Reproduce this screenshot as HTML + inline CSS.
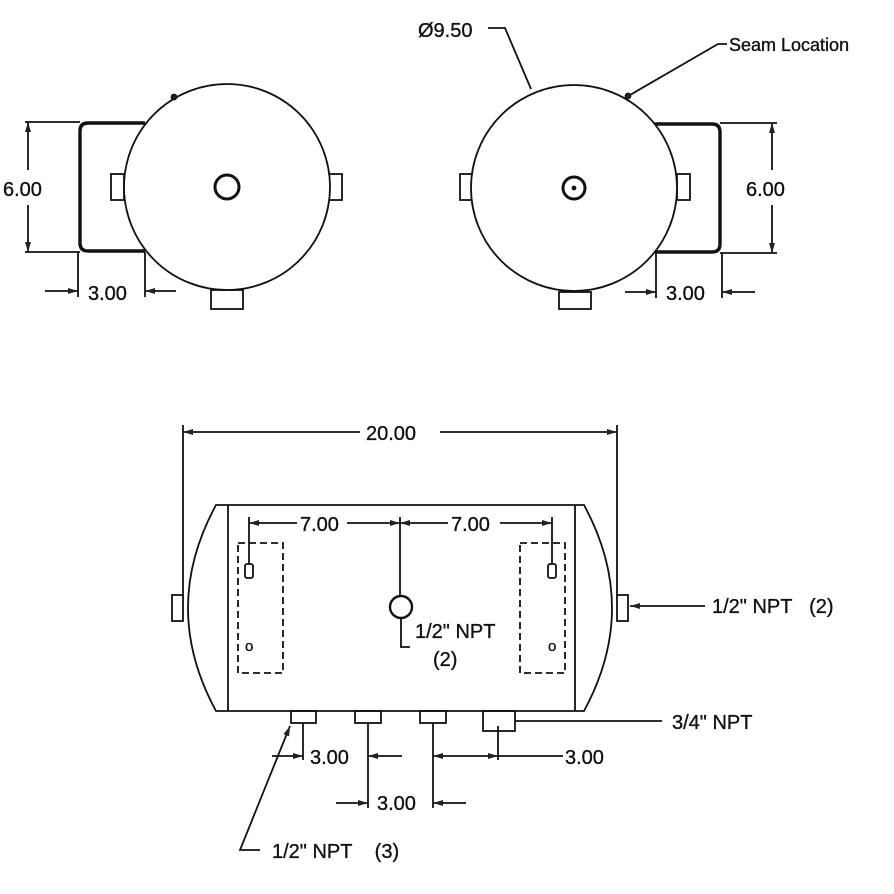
<!DOCTYPE html>
<html><head><meta charset="utf-8"><style>
html,body{margin:0;padding:0;background:#fff;}
svg{display:block;}
text{font-family:"Liberation Sans",Arial,sans-serif;font-size:20px;fill:#111;stroke:#111;stroke-width:0.35px;}
</style></head><body>
<svg width="894" height="894" viewBox="0 0 894 894" xmlns="http://www.w3.org/2000/svg">
<defs>
<marker id="a" viewBox="0 0 10 6" refX="10" refY="3" markerWidth="10" markerHeight="6" orient="auto-start-reverse" markerUnits="userSpaceOnUse"><path d="M0,0 L10,3 L0,6 z" fill="#222"/></marker>
</defs>
<g stroke="#111" fill="none" stroke-width="1.8">
<!-- LEFT END VIEW -->
<path d="M145,123 L88,123 Q80,123 80,131 L80,243 Q80,251 88,251 L145,251" stroke-width="3.4"/>
<rect x="111" y="174" width="13" height="26" fill="#fff"/>
<rect x="329" y="174" width="13" height="26"/>
<rect x="211" y="290" width="32" height="19"/>
<circle cx="227" cy="187" r="103" fill="#fff"/>
<circle cx="227" cy="187" r="12" stroke-width="3"/>
<circle cx="174" cy="97" r="2.5" fill="#222"/>
<line x1="25" y1="122" x2="80" y2="122"/>
<line x1="25" y1="252" x2="80" y2="252"/>
<line x1="28" y1="122" x2="28" y2="170" marker-start="url(#a)"/>
<line x1="28" y1="205" x2="28" y2="252" marker-end="url(#a)"/>
<line x1="78" y1="252" x2="78" y2="297"/>
<line x1="145" y1="252" x2="145" y2="297"/>
<line x1="45" y1="291" x2="78" y2="291" marker-end="url(#a)"/>
<line x1="176" y1="291" x2="145" y2="291" marker-end="url(#a)"/>
<!-- RIGHT END VIEW -->
<path d="M655,124 L712,124 Q720,124 720,132 L720,244 Q720,252 712,252 L655,252" stroke-width="3.4"/>
<rect x="460" y="174" width="13" height="26"/>
<rect x="677" y="174" width="13" height="26"/>
<rect x="559" y="292" width="32" height="17"/>
<circle cx="574" cy="188" r="103" fill="#fff"/>
<circle cx="574" cy="188" r="11" stroke-width="3"/>
<circle cx="574" cy="188" r="1.5" fill="#222"/>
<circle cx="628" cy="96" r="2.5" fill="#222"/>
<line x1="720" y1="123" x2="777" y2="123"/>
<line x1="720" y1="253" x2="777" y2="253"/>
<line x1="772" y1="123" x2="772" y2="170" marker-start="url(#a)"/>
<line x1="772" y1="205" x2="772" y2="253" marker-end="url(#a)"/>
<line x1="656" y1="253" x2="656" y2="298"/>
<line x1="722" y1="253" x2="722" y2="298"/>
<line x1="625" y1="292" x2="656" y2="292" marker-end="url(#a)"/>
<line x1="755" y1="292" x2="722" y2="292" marker-end="url(#a)"/>
<polyline points="488,28 505,28 531,89"/>
<polyline points="727,44 718,44 630,95"/>
<!-- TANK SIDE VIEW -->
<line x1="183" y1="425" x2="183" y2="597"/>
<line x1="617" y1="425" x2="617" y2="597"/>
<line x1="183" y1="432" x2="360" y2="432" marker-start="url(#a)"/>
<line x1="440" y1="432" x2="617" y2="432" marker-end="url(#a)"/>
<rect x="172" y="595" width="11" height="26"/>
<rect x="617" y="595" width="11" height="26"/>
<path d="M216,505 L584,505 Q640,608 584,711 L216,711 Q160,608 216,505 Z" fill="#fff"/>
<line x1="228" y1="505" x2="228" y2="711"/>
<line x1="575" y1="505" x2="575" y2="711"/>
<rect x="238" y="543" width="45" height="130" stroke-dasharray="7,4"/>
<rect x="520" y="543" width="45" height="130" stroke-dasharray="7,4"/>
<rect x="245" y="564" width="8" height="14" rx="2"/>
<rect x="548" y="564" width="8" height="14" rx="2"/>
<line x1="249" y1="517" x2="249" y2="564"/>
<line x1="552" y1="517" x2="552" y2="564"/>
<line x1="400" y1="517" x2="400" y2="596"/>
<line x1="249" y1="523" x2="297" y2="523" marker-start="url(#a)"/>
<line x1="347" y1="523" x2="400" y2="523" marker-end="url(#a)"/>
<line x1="400" y1="523" x2="448" y2="523" marker-start="url(#a)"/>
<line x1="500" y1="523" x2="552" y2="523" marker-end="url(#a)"/>
<circle cx="401" cy="607" r="11" stroke-width="2.4"/>
<polyline points="401,618 401,647 410,647"/>
<!-- bottom fittings -->
<rect x="291" y="711" width="25" height="12"/>
<rect x="355" y="711" width="26" height="12"/>
<rect x="420" y="711" width="26" height="12"/>
<rect x="483" y="711" width="32" height="20"/>
<line x1="515" y1="721" x2="662" y2="721"/>
<line x1="303" y1="723" x2="303" y2="760"/>
<line x1="368" y1="723" x2="368" y2="808"/>
<line x1="433" y1="723" x2="433" y2="808"/>
<line x1="498" y1="726" x2="498" y2="760"/>
<line x1="272" y1="756" x2="303" y2="756" marker-end="url(#a)"/>
<line x1="402" y1="756" x2="368" y2="756" marker-end="url(#a)"/>
<line x1="433" y1="756" x2="498" y2="756" marker-start="url(#a)" marker-end="url(#a)"/>
<line x1="498" y1="756" x2="563" y2="756"/>
<line x1="336" y1="803" x2="368" y2="803" marker-end="url(#a)"/>
<line x1="466" y1="803" x2="433" y2="803" marker-end="url(#a)"/>
<polyline points="260,850 240,850 290,726" marker-end="url(#a)"/>
<line x1="705" y1="606" x2="630" y2="606" marker-end="url(#a)"/>
</g>
<text x="3" y="196">6.00</text>
<text x="88" y="300">3.00</text>
<text x="746" y="196">6.00</text>
<text x="666" y="300">3.00</text>
<text x="418" y="37">Ø9.50</text>
<text x="729" y="51" style="font-size:18px">Seam Location</text>
<text x="366" y="440">20.00</text>
<text x="300" y="531">7.00</text>
<text x="451" y="531">7.00</text>
<text x="415" y="638">1/2" NPT</text>
<text x="433" y="666">(2)</text>
<text x="712" y="613">1/2" NPT&#160;&#160;&#160;(2)</text>
<text x="672" y="729">3/4" NPT</text>
<text x="310" y="764">3.00</text>
<text x="565" y="764">3.00</text>
<text x="377" y="810">3.00</text>
<text x="272" y="858">1/2" NPT&#160;&#160;&#160;&#160;(3)</text>
<text x="245" y="651" style="font-size:15px">o</text>
<text x="548" y="651" style="font-size:15px">o</text>
</svg>
</body></html>
